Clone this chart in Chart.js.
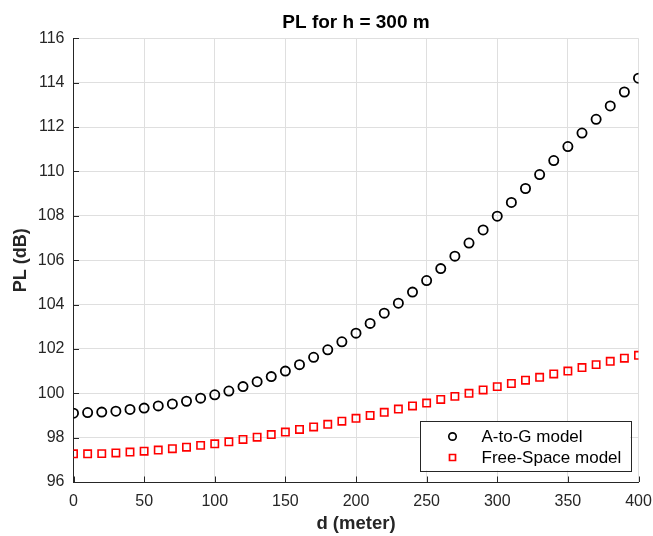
<!DOCTYPE html>
<html>
<head>
<meta charset="utf-8">
<title>PL for h = 300 m</title>
<script src="https://cdn.jsdelivr.net/npm/chart.js@4.4.1/dist/chart.umd.min.js"></script>
<style>
  html,body{margin:0;padding:0;background:#fff;}
  canvas{display:block;}
</style>
</head>
<body>
<canvas id="plChart" width="653" height="536"></canvas>
<script>
// ====== DATA ======
const distances = [0,10,20,30,40,50,60,70,80,90,100,110,120,130,140,150,160,170,180,190,200,
  210,220,230,240,250,260,270,280,290,300,310,320,330,340,350,360,370,380,390,400];

const atgLoss = [99.10,99.13,99.15,99.19,99.27,99.33,99.43,99.52,99.64,99.78,99.93,
  100.10,100.30,100.52,100.75,101.00,101.29,101.62,101.96,102.32,102.71,
  103.15,103.61,104.06,104.56,105.08,105.62,106.18,106.77,107.36,107.98,
  108.60,109.23,109.86,110.49,111.12,111.73,112.35,112.95,113.58,114.20];

const freeSpaceLoss = [97.27,97.27,97.28,97.31,97.35,97.39,97.44,97.50,97.57,97.65,97.72,
  97.81,97.92,98.02,98.14,98.25,98.37,98.48,98.60,98.74,98.87,
  99.00,99.14,99.29,99.43,99.56,99.72,99.86,100.00,100.15,100.30,
  100.44,100.59,100.72,100.87,101.00,101.16,101.29,101.44,101.58,101.71];

const seriesNames = ['A-to-G model', 'Free-Space model'];
const chartTitle = 'PL for h = 300 m';

// ====== STYLE ======
const FONT = '"Liberation Sans", Arial, Helvetica, sans-serif';
const AXIS = '#262626';
const GRID = '#dfdfdf';

const toPoints = ys => distances.map((d,i) => ({x:d, y:ys[i]}));

// title centred over the plot area rather than the whole canvas
const plotTitle = {
  id:'plotTitle',
  afterDraw(chart){
    const {ctx, chartArea:a} = chart;
    ctx.save();
    ctx.font = 'bold 19px ' + FONT;
    ctx.fillStyle = '#000';
    ctx.textAlign = 'center';
    ctx.textBaseline = 'alphabetic';
    ctx.fillText(chartTitle, (a.left + a.right) / 2, a.top - 10);
    ctx.restore();
  }
};

// inward tick marks along the left and bottom axes
const innerTicks = {
  id:'innerTicks',
  afterDatasetsDraw(chart){
    const {ctx, chartArea:a, scales:{x, y}} = chart;
    ctx.save();
    ctx.strokeStyle = AXIS;
    ctx.lineWidth = 1;
    ctx.beginPath();
    x.ticks.forEach(t => {
      const px = Math.round(x.getPixelForValue(t.value)) + 0.5;
      ctx.moveTo(px, a.bottom); ctx.lineTo(px, a.bottom - 5.5);
    });
    y.ticks.forEach(t => {
      const py = Math.round(y.getPixelForValue(t.value)) + 0.5;
      ctx.moveTo(a.left, py); ctx.lineTo(a.left + 5.5, py);
    });
    ctx.stroke();
    ctx.restore();
  }
};

// boxed legend in the lower right corner of the plot
const boxLegend = {
  id:'boxLegend',
  afterDraw(chart){
    const {ctx, chartArea:a} = chart;
    const w = 210.5, h = 49.5;
    const left = a.right - 8.5 - w, top = a.bottom - 11.5 - h;
    ctx.save();
    ctx.fillStyle = '#fff';
    ctx.fillRect(left, top, w, h);
    ctx.strokeStyle = '#262626';
    ctx.lineWidth = 1;
    ctx.strokeRect(Math.round(left)+0.5, Math.round(top)+0.5, Math.round(w), Math.round(h));
    ctx.font = '17px ' + FONT;
    ctx.textBaseline = 'middle';
    chart.data.datasets.forEach((ds,i) => {
      const cy = top + 15.5 + i*21;
      const cx = left + 33;
      ctx.strokeStyle = ds.borderColor;
      ctx.lineWidth = 1.7;
      ctx.beginPath();
      if(ds.pointStyle === 'rect') ctx.rect(cx-3, cy-3, 6, 6);
      else ctx.arc(cx, cy, 3.7, 0, Math.PI*2);
      ctx.stroke();
      ctx.fillStyle = '#000';
      ctx.fillText(ds.label, left + 62, cy + 1);
    });
    ctx.restore();
  }
};

// ====== CHART ======
new Chart(document.getElementById('plChart'), {
  type:'scatter',
  data:{
    datasets:[
      {label:seriesNames[0], data:toPoints(atgLoss), pointStyle:'circle',
       pointRadius:4.6, pointHoverRadius:4.6, borderWidth:1.8,
       borderColor:'#000', backgroundColor:'rgba(0,0,0,0)', showLine:false},
      {label:seriesNames[1], data:toPoints(freeSpaceLoss), pointStyle:'rect',
       pointRadius:5.2, pointHoverRadius:5.2, borderWidth:1.6,
       borderColor:'#ff0000', backgroundColor:'rgba(0,0,0,0)', showLine:false}
    ]
  },
  options:{
    responsive:false,
    animation:false,
    layout:{padding:{left:0, right:14.5, top:38.3, bottom:0}},
    plugins:{
      legend:{display:false},
      tooltip:{enabled:false},
      title:{display:false}
    },
    scales:{
      x:{
        type:'linear', min:0, max:400,
        afterFit(s){ s.height = 54; s.paddingLeft = 0; s.paddingRight = 0; },
        ticks:{stepSize:50, color:AXIS, padding:10, font:{family:FONT, size:16}},
        grid:{color:GRID, drawTicks:false},
        border:{color:AXIS, width:1},
        title:{display:true, text:'d (meter)', color:AXIS,
          font:{family:FONT, size:18.5, weight:'bold'}, padding:{top:0, bottom:1}}
      },
      y:{
        type:'linear', min:96, max:116,
        afterFit(s){ s.width = 73.5; s.paddingTop = 0; s.paddingBottom = 0; },
        ticks:{stepSize:2, color:AXIS, padding:9, font:{family:FONT, size:16}},
        grid:{color:GRID, drawTicks:false},
        border:{color:AXIS, width:1},
        title:{display:true, text:'PL (dB)', color:AXIS,
          font:{family:FONT, size:18, weight:'bold'}, padding:{top:10, bottom:0}}
      }
    }
  },
  plugins:[innerTicks, boxLegend, plotTitle]
});
</script>
</body>
</html>
